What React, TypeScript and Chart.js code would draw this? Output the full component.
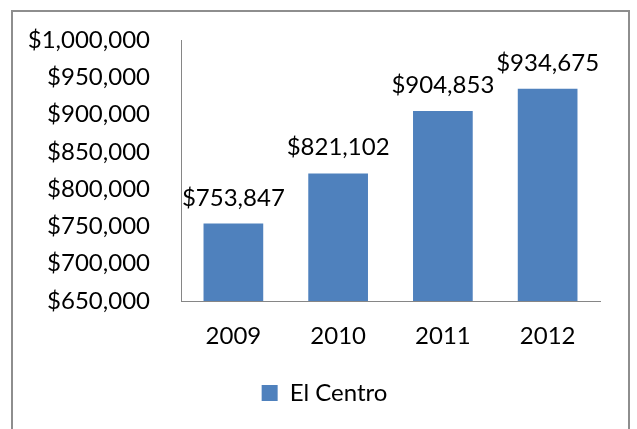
import React, { useEffect, useRef } from "react";
import { Chart, registerables } from "chart.js";

Chart.register(...registerables);

const categories = ["2009", "2010", "2011", "2012"];
const values = [753847, 821102, 904853, 934675];
const seriesName = "El Centro";
const yMin = 650000;
const yMax = 1000000;
const yStep = 50000;

const FONT = "Lato, 'Open Sans', sans-serif";
const FONT_SIZE = 24;
const BAR_COLOR = "#4F81BD";
const AXIS_COLOR = "#868686";

const fmt = (v: number) => "$" + Math.round(v).toLocaleString("en-US");

const dataLabels = {
  id: "dataLabels",
  afterDatasetsDraw(chart: any) {
    const ctx = chart.ctx;
    const meta = chart.getDatasetMeta(0);
    ctx.save();
    ctx.font = `${FONT_SIZE}px ${FONT}`;
    ctx.fillStyle = "#000";
    ctx.textAlign = "center";
    ctx.textBaseline = "alphabetic";
    meta.data.forEach((bar: any, i: number) => {
      const v = chart.data.datasets[0].data[i] as number;
      ctx.fillText(fmt(v), bar.x, bar.y - 18);
    });
    ctx.restore();
  },
};

// centre the legend under the region the reference uses
const legendShift = {
  id: "legendShift",
  afterLayout(chart: any) {
    if (chart.legend) chart.legend.left = 49;
  },
};

export default function App() {
  const ref = useRef<HTMLCanvasElement | null>(null);
  useEffect(() => {
    if (!ref.current) return;
    const chart = new Chart(ref.current, {
      type: "bar",
      data: {
        labels: categories,
        datasets: [
          {
            label: seriesName,
            data: values,
            backgroundColor: BAR_COLOR,
            borderWidth: 0,
            barPercentage: 0.57,
            categoryPercentage: 1,
          },
        ],
      },
      options: {
        animation: false,
        responsive: false,
        maintainAspectRatio: false,
        layout: { padding: { left: 10, right: 37, top: 40, bottom: 14 } },
        font: { family: FONT, size: FONT_SIZE },
        color: "#000",
        plugins: {
          tooltip: { enabled: false },
          legend: {
            position: "bottom",
            labels: {
              boxWidth: 16,
              boxHeight: 16,
              color: "#000",
              font: { family: FONT, size: FONT_SIZE },
              padding: 10,
            },
          },
        },
        scales: {
          x: {
            grid: { display: false, drawTicks: false },
            border: { display: true, color: AXIS_COLOR, width: 1 },
            ticks: {
              color: "#000",
              font: { family: FONT, size: FONT_SIZE },
              padding: 21,
              maxRotation: 0,
            },
            afterFit: (s: any) => {
              s.height = 70;
            },
          },
          y: {
            min: yMin,
            max: yMax,
            grid: { display: false, drawTicks: false },
            border: { display: true, color: AXIS_COLOR, width: 1 },
            ticks: {
              stepSize: yStep,
              color: "#000",
              font: { family: FONT, size: FONT_SIZE },
              padding: 31,
              callback: (v: any) => fmt(Number(v)),
            },
            afterFit: (s: any) => {
              s.width = 171;
              s.paddingTop = 0;
              s.paddingBottom = 0;
            },
          },
        },
      },
      plugins: [dataLabels, legendShift],
    });
    return () => chart.destroy();
  }, []);

  return (
    <div
      style={{
        position: "fixed",
        left: 0,
        top: 0,
        width: 637,
        height: 429,
        overflow: "hidden",
        background: "#fff",
      }}
    >
      <canvas
        ref={ref}
        width={637}
        height={429}
        style={{ position: "absolute", left: 0, top: 0, width: 637, height: 429 }}
      />
      <div
        style={{
          position: "absolute",
          left: 11,
          top: 10,
          width: 619,
          height: 500,
          boxSizing: "border-box",
          border: "2px solid #8e8e8e",
          pointerEvents: "none",
        }}
      />
    </div>
  );
}
